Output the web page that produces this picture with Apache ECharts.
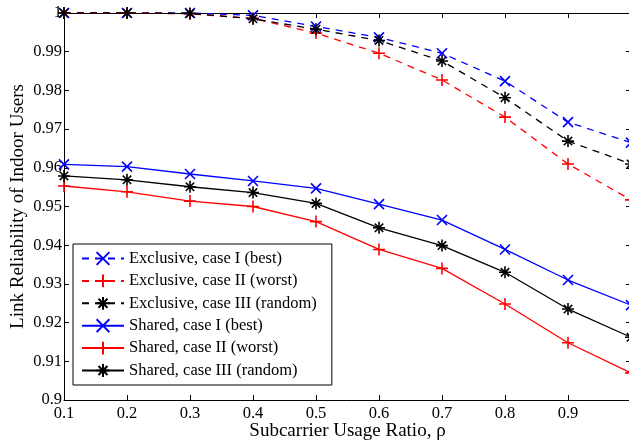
<!DOCTYPE html>
<html><head><meta charset="utf-8">
<script src="https://cdn.jsdelivr.net/npm/echarts@6/dist/echarts.min.js"></script>
<style>html,body{margin:0;padding:0;background:#fff}#c{width:629px;height:447px}</style>
</head><body><div id="c"></div>
<script>
const xValues = [0.1,0.2,0.3,0.4,0.5,0.6,0.7,0.8,0.9,1.0];
const exclusiveBest   = [1.0000,1.0000,1.0000,0.9994,0.9965,0.9937,0.9896,0.9824,0.9718,0.9665];
const exclusiveWorst  = [1.0000,1.0000,0.9998,0.9986,0.9948,0.9896,0.9827,0.9731,0.9610,0.9517];
const exclusiveRandom = [1.0000,1.0000,0.9999,0.9985,0.9958,0.9929,0.9876,0.9781,0.9669,0.9610];
const sharedBest      = [0.9609,0.9603,0.9584,0.9566,0.9547,0.9506,0.9465,0.9389,0.9310,0.9245];
const sharedWorst     = [0.9553,0.9538,0.9514,0.9500,0.9461,0.9389,0.9340,0.9248,0.9148,0.9070];
const sharedRandom    = [0.9579,0.9569,0.9551,0.9536,0.9508,0.9445,0.9399,0.9330,0.9235,0.9162];
const seriesNames = ['Exclusive, case I (best)','Exclusive, case II (worst)','Exclusive, case III (random)','Shared, case I (best)','Shared, case II (worst)','Shared, case III (random)'];

const SYM_X = 'path://M0,0L10,10M10,0L0,10';
const SYM_PLUS = 'path://M5,0L5,10M0,5L10,5';
const SYM_STAR = 'path://M5,0L5,10M0,5L10,5M1.5,1.5L8.5,8.5M8.5,1.5L1.5,8.5';
const BLUE='#0000ff', RED='#ff0000', BLACK='#000000';
const FONT='"Liberation Serif", "DejaVu Serif", serif';

function mk(name, vals, color, sym, size, dashed){
  return {
    name, type:'line', data: xValues.map((x,i)=>[x, vals[i]]),
    symbol: sym, symbolSize: size, showSymbol:true, clip:false,
    lineStyle:{color, width:1.3, type: dashed ? [7,6] : 'solid'},
    itemStyle:{color:'rgba(0,0,0,0)', borderColor: color, borderWidth: 1.6},
    emphasis:{disabled:true}, animation:false
  };
}
const series = [
  mk(seriesNames[0], exclusiveBest, BLUE, SYM_X, 10, true),
  mk(seriesNames[1], exclusiveWorst, RED, SYM_PLUS, 12, true),
  mk(seriesNames[2], exclusiveRandom, BLACK, SYM_STAR, 12, true),
  mk(seriesNames[3], sharedBest, BLUE, SYM_X, 10, false),
  mk(seriesNames[4], sharedWorst, RED, SYM_PLUS, 12, false),
  mk(seriesNames[5], sharedRandom, BLACK, SYM_STAR, 12, false)
];
const axisLine = {show:true, lineStyle:{color:'#000', width:1}};
const chart = echarts.init(document.getElementById('c'));
chart.setOption({
  animation:false,
  grid:{left:64, top:13, right:-2, bottom:47, containLabel:false, outerBoundsMode:'none'},
  legend:{
    orient:'vertical', left:73, top:244, data: seriesNames,
    backgroundColor:'#fff', borderColor:'#000', borderWidth:1, padding:[6,15,6,8],
    itemWidth:42, itemHeight:16, itemGap:5.4,
    textStyle:{fontFamily:FONT, fontSize:16.5, color:'#000'}
  },
  xAxis:[{
    type:'value', min:0.1, max:1.0, interval:0.1, position:'bottom',
    axisLine, axisTick:{inside:true, length:5, lineStyle:{color:'#000'}},
    splitLine:{show:false},
    axisLabel:{fontFamily:FONT, fontSize:16.5, color:'#000', margin:5,
      formatter:v=>{const r=Math.round(v*10)/10; return r>=1?'':r.toFixed(1);}},
    name:'Subcarrier Usage Ratio, ρ', nameLocation:'middle', nameGap:22, nameMoveOverlap:false,
    nameTextStyle:{fontFamily:FONT, fontSize:19, color:'#000'}
  },{
    type:'value', min:0.1, max:1.0, interval:0.1, position:'top',
    axisLine, axisTick:{inside:true, length:5, lineStyle:{color:'#000'}},
    axisLabel:{show:false}, splitLine:{show:false}
  }],
  yAxis:[{
    type:'value', min:0.9, max:1.0, interval:0.01, position:'left',
    axisLine, axisTick:{inside:true, length:5, lineStyle:{color:'#000'}},
    splitLine:{show:false},
    axisLabel:{fontFamily:FONT, fontSize:16.5, color:'#000', margin:2,
      formatter:v=>{const r=Math.round(v*100)/100; return r>=1?'1':(r===0.9?'0.9':r.toFixed(2));}},
    name:'Link Reliability of Indoor Users', nameLocation:'middle', nameGap:36, nameMoveOverlap:false,
    nameTextStyle:{fontFamily:FONT, fontSize:19, color:'#000'}
  },{
    type:'value', min:0.9, max:1.0, interval:0.01, position:'right',
    axisLine, axisTick:{inside:true, length:5, lineStyle:{color:'#000'}},
    axisLabel:{show:false}, splitLine:{show:false}
  }],
  series
});
</script></body></html>
